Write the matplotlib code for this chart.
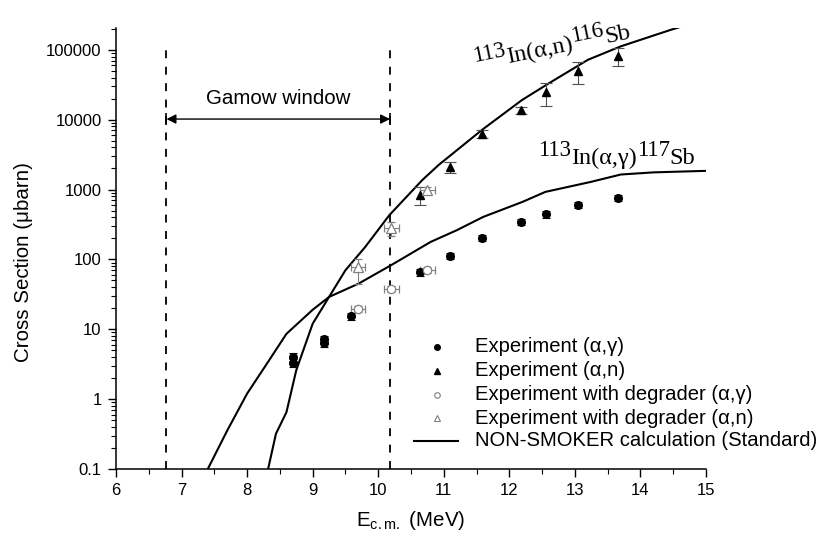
import matplotlib
matplotlib.use("Agg")
import matplotlib.pyplot as plt
from matplotlib.lines import Line2D
from matplotlib.font_manager import FontProperties
from matplotlib.ticker import MultipleLocator, LogLocator, NullFormatter, FixedLocator, FixedFormatter
import numpy as np

plt.rcParams['font.family'] = ['Liberation Sans', 'DejaVu Sans']
plt.rcParams['mathtext.fontset'] = 'custom'
plt.rcParams['mathtext.rm'] = 'Liberation Sans'

# ---------------- data ----------------
# NON-SMOKER calculations
calc_ag_E = [7.40, 7.70, 8.00, 8.30, 8.60, 9.00, 9.25, 9.70, 10.20, 10.80, 11.20, 11.60, 12.20, 12.55, 13.25, 13.70, 14.20, 15.00]
calc_ag_S = [0.10, 0.36, 1.2, 3.2, 8.6, 19, 29, 45, 83, 178, 262, 405, 665, 925, 1290, 1640, 1760, 1850]
calc_an_E = [8.32, 8.44, 8.60, 8.75, 9.00, 9.25, 9.50, 9.80, 10.17, 10.67, 10.92, 11.58, 12.19, 12.60, 13.20, 13.70, 14.47, 14.80]
calc_an_S = [0.10, 0.32, 0.65, 2.6, 12, 29, 70, 150, 430, 1360, 2240, 7100, 19000, 33000, 72000, 112000, 194000, 240000]

# Experiment (alpha,gamma)
exp_ag_E = [8.70, 8.70, 9.17, 9.17, 9.58, 10.63, 11.10, 11.59, 12.18, 12.56, 13.04, 13.66]
exp_ag_S = [4.0, 3.3, 7.3, 6.3, 15.5, 65, 112, 203, 345, 440, 600, 760]
exp_ag_err = [0.5, 0.4, 0.8, 0.7, 1.8, 7, 12, 20, 35, 45, 60, 80]

# Experiment (alpha,n)
exp_an_E = [10.63, 11.10, 11.59, 12.18, 12.56, 13.04, 13.66]
exp_an_S = [830, 2100, 6200, 13700, 25000, 49000, 82000]
exp_an_lo = [230, 400, 800, 1500, 9500, 17000, 23000]
exp_an_hi = [270, 400, 800, 1500, 9000, 17000, 24000]

# Experiment with degrader
deg_E = [9.69, 10.20, 10.75]
deg_Ex = [0.11, 0.11, 0.11]
deg_ag_S = [19.6, 38, 71]
deg_ag_err = [2, 4, 7]
deg_an_S = [78, 280, 1000]
deg_an_lo = [34, 62, 100]
deg_an_hi = [22, 60, 100]

gamow_lo, gamow_hi = 6.77, 10.18
gamow_level = 1.02e4

xticks = [6, 7, 8, 9, 10, 11, 12, 13, 14, 15]
yticks = [0.1, 1, 10, 100, 1000, 10000, 100000]
ytick_labels = ['0.1', '1', '10', '100', '1000', '10000', '100000']

legend_labels = ['Experiment (\u03b1,\u03b3)', 'Experiment (\u03b1,n)',
                 'Experiment with degrader (\u03b1,\u03b3)', 'Experiment with degrader (\u03b1,n)',
                 'NON-SMOKER calculation (Standard)']

# ---------------- figure ----------------
W, H = 819, 539
fig = plt.figure(figsize=(W / 100, H / 100), dpi=100)
ax = fig.add_axes([116 / W, 1 - 469 / H, (706 - 116) / W, (469 - 28) / H])

GRAY = '#808080'

ax.plot(calc_ag_E, calc_ag_S, color='k', lw=1.5, zorder=3)
ax.plot(calc_an_E, calc_an_S, color='k', lw=1.5, zorder=3)

ax.errorbar(exp_ag_E, exp_ag_S, yerr=exp_ag_err, fmt='o', color='k', ms=5.5,
            elinewidth=0.8, capsize=3, capthick=0.8, zorder=4)
ax.errorbar(exp_an_E, exp_an_S, yerr=[exp_an_lo, exp_an_hi], fmt='^', color='k', ms=6,
            ecolor='#505050', elinewidth=0.8, capsize=4, capthick=0.8, zorder=4)
ax.errorbar(deg_E, deg_ag_S, xerr=deg_Ex, yerr=deg_ag_err, fmt='o', mfc='white', mec=GRAY,
            ms=6, mew=0.9, ecolor=GRAY, elinewidth=0.8, capsize=3, capthick=0.8, zorder=4)
ax.errorbar(deg_E, deg_an_S, xerr=deg_Ex, yerr=[deg_an_lo, deg_an_hi], fmt='^', mfc='white', mec=GRAY,
            ms=6.5, mew=0.9, ecolor=GRAY, elinewidth=0.8, capsize=3, capthick=0.8, zorder=4)

# Gamow window
for xg in (gamow_lo, gamow_hi):
    ax.plot([xg, xg], [0.1, 1e5], color='k', lw=1.3, ls=(0, (4.4, 4.7)), zorder=2)
ax.annotate('', xy=(gamow_lo, gamow_level), xytext=(gamow_hi, gamow_level),
            arrowprops=dict(arrowstyle='<|-|>', color='k', lw=1.0, mutation_scale=14,
                            shrinkA=0, shrinkB=0))
ax.plot([gamow_lo, gamow_hi], [gamow_level, gamow_level], ls='none', marker='|', ms=8, mew=1.2, color='k')
ax.text((gamow_lo + gamow_hi) / 2, gamow_level * 1.42, 'Gamow window', ha='center', va='bottom', fontsize=14.8)

ax.set_yscale('log')
ax.set_xlim(6, 15)
ax.set_ylim(0.1, 2.05e5)

ax.spines['top'].set_visible(False)
ax.spines['right'].set_visible(False)
for s in ('left', 'bottom'):
    ax.spines[s].set_linewidth(1.1)

ax.xaxis.set_major_locator(FixedLocator(xticks))
ax.xaxis.set_minor_locator(MultipleLocator(0.5))
ax.yaxis.set_major_locator(FixedLocator(yticks))
ax.yaxis.set_major_formatter(FixedFormatter(ytick_labels))
ax.yaxis.set_minor_locator(LogLocator(base=10, subs=np.arange(2, 10)))
ax.yaxis.set_minor_formatter(NullFormatter())
ax.tick_params(which='major', direction='out', length=5.8, width=1.0, labelsize=12, pad=4.5)
ax.tick_params(which='minor', direction='out', length=3.6, width=0.8)

ax.set_xlabel(r'E$_{\mathrm{c.m.}}$ (MeV)', fontsize=14.8, labelpad=8)
ax.set_ylabel('Cross Section (\u03bcbarn)', fontsize=14.8)
ax.yaxis.set_label_coords(-0.14, 0.47)

# ---------------- legend (manual, figure pixels) ----------------
def fx(px):
    return px / W


def fy(py):
    return 1 - py / H


rows = [347, 371, 395, 418, 441]
mk_x = 437
txt_x = 475
handles = [dict(marker='o', mfc='k', mec='k', ms=4),
           dict(marker='^', mfc='k', mec='k', ms=4.5),
           dict(marker='o', mfc='white', mec=GRAY, ms=4, mew=0.8),
           dict(marker='^', mfc='white', mec=GRAY, ms=4.5, mew=0.8)]
for r, h, lab in zip(rows[:4], handles, legend_labels[:4]):
    fig.add_artist(Line2D([fx(mk_x)], [fy(r)], ls='none', transform=fig.transFigure, **h))
    fig.text(fx(txt_x), fy(r), lab, ha='left', va='center', fontsize=14.6)
fig.add_artist(Line2D([fx(414), fx(458)], [fy(rows[4]), fy(rows[4])], color='k', lw=1.5,
                      transform=fig.transFigure))
fig.text(fx(txt_x), fy(rows[4]), legend_labels[4], ha='left', va='center', fontsize=14.6)

# ---------------- reaction annotations (serif, super-scripted mass numbers) ----------------
renderer = fig.canvas.get_renderer()
SERIF = ['Liberation Serif', 'DejaVu Serif']


def chain(x0, y0, angle, pieces):
    """x0,y0: baseline start in figure pixels from top-left; pieces: (text, size, rise_px)."""
    th = np.deg2rad(angle)
    ux, uy = np.cos(th), np.sin(th)
    px_, py_ = -np.sin(th), np.cos(th)
    dist = 0.0
    for txt, size, rise in pieces:
        fp = FontProperties(family=SERIF, size=size)
        w, h, d = renderer.get_text_width_height_descent(txt, fp, ismath=False)
        X = x0 + ux * dist + px_ * rise
        Y = (H - y0) + uy * dist + py_ * rise
        fig.text(X / W, Y / H, txt, fontproperties=fp, rotation=angle,
                 rotation_mode='anchor', ha='left', va='baseline')
        dist += w


chain(476, 70, 11.5, [('113', 16.5, 8), ('In(\u03b1,n)', 17.5, 0), ('116', 16.5, 8), ('Sb', 17.5, 0)])
chain(538, 164, 0, [('113', 16.5, 8), ('In(\u03b1,\u03b3)', 17.5, 0), ('117', 16.5, 8), ('Sb', 17.5, 0)])

fig.savefig('out.png', dpi=100)
